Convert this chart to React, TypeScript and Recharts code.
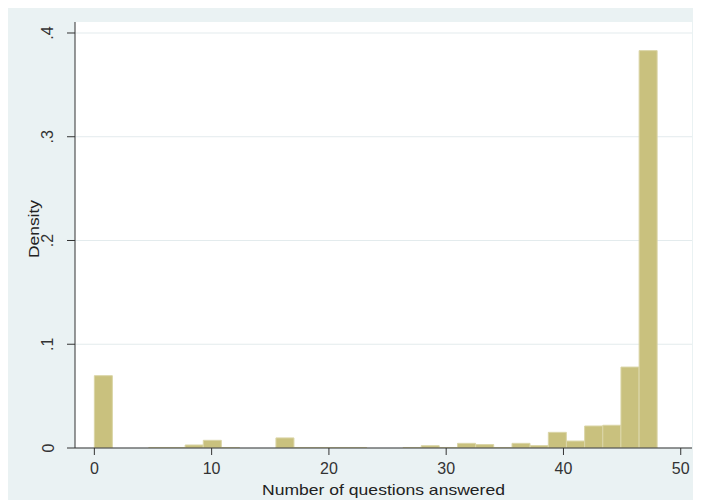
import { BarChart, Bar, XAxis, YAxis, CartesianGrid, Label } from "recharts";

// histogram of answered questions: 31 equal bins over 0..48
const BIN_START = 0;
const BIN_END = 48;
const DENSITY = [
  0.0697, 0, 0, 0.0005, 0.0005, 0.0029, 0.0074, 0.0005, 0, 0,
  0.0097, 0.0005, 0.0005, 0.0005, 0.0005, 0, 0, 0.0005, 0.0022, 0.0005,
  0.0045, 0.0033, 0.0005, 0.0045, 0.0023, 0.0151, 0.0067, 0.0212, 0.0219, 0.078,
  0.383,
];
const X_TICKS = [0, 10, 20, 30, 40, 50];
const Y_TICKS = [0, 0.1, 0.2, 0.3, 0.4];
const Y_TICK_LABELS = ["0", ".1", ".2", ".3", ".4"];

const X_DOMAIN: [number, number] = [-1.65, 50.96];
const Y_DOMAIN: [number, number] = [0, 0.4106];

const binWidth = (BIN_END - BIN_START) / DENSITY.length;
const data = DENSITY.map((d, i) => ({
  mid: BIN_START + (i + 0.5) * binWidth,
  density: d,
}));

const FONT = '"Liberation Sans", Arial, Helvetica, sans-serif';
const INK = "#333333";
const BG = "#EAF2F3";

function XTick({ x, y, payload }: any) {
  return (
    <text x={x} y={y + 11} textAnchor="middle" dominantBaseline="central" fontFamily={FONT} fontSize={16} fill={INK}>
      {payload.value}
    </text>
  );
}

function YTick({ x, y, payload, index }: any) {
  const lx = x - 17;
  const label = Y_TICK_LABELS[Y_TICKS.indexOf(payload.value)] ?? Y_TICK_LABELS[index];
  return (
    <text
      x={lx}
      y={y}
      transform={`rotate(-90, ${lx}, ${y})`}
      textAnchor="middle"
      dominantBaseline="central"
      fontFamily={FONT}
      fontSize={16}
      fill={INK}
    >
      {label}
    </text>
  );
}

export default function App() {
  return (
    <div style={{ position: "relative", left: -1, top: -1, width: 692, height: 493, background: BG }}>
      <BarChart
        width={692}
        height={493}
        data={data}
        margin={{ top: 15, right: 7, bottom: 0, left: 0 }}
        barCategoryGap={0}
        barGap={0}
      >
        <CartesianGrid fill="#ffffff" stroke="#E3EBED" vertical={false} horizontalValues={Y_TICKS} />
        <XAxis
          dataKey="mid"
          type="number"
          domain={X_DOMAIN}
          ticks={X_TICKS}
          allowDataOverflow
          height={52}
          tickSize={7}
          stroke={INK}
          tickLine={{ stroke: INK }}
          tick={<XTick />}
        >
          <Label
            content={({ viewBox }: any) => (
              <text
                x={viewBox.x + viewBox.width / 2}
                y={viewBox.y + 41}
                textAnchor="middle"
                dominantBaseline="central"
                fontFamily={FONT}
                fontSize={15}
                fill="#222"
                textLength={243}
                lengthAdjust="spacingAndGlyphs"
              >
                Number of questions answered
              </text>
            )}
          />
        </XAxis>
        <YAxis
          type="number"
          domain={Y_DOMAIN}
          ticks={Y_TICKS}
          allowDataOverflow
          width={68}
          tickSize={8}
          stroke={INK}
          tickLine={{ stroke: INK }}
          tick={<YTick />}
        >
          <Label
            content={({ viewBox }: any) => {
              const cx = 26;
              const cy = viewBox.y + viewBox.height / 2 - 6;
              return (
                <text
                  x={cx}
                  y={cy}
                  transform={`rotate(-90, ${cx}, ${cy})`}
                  textAnchor="middle"
                  dominantBaseline="central"
                  fontFamily={FONT}
                  fontSize={15}
                  fill="#222"
                  textLength={58}
                  lengthAdjust="spacingAndGlyphs"
                >
                  Density
                </text>
              );
            }}
          />
        </YAxis>
        <Bar dataKey="density" fill="#C9C17E" stroke="#DAD5A6" strokeWidth={1} isAnimationActive={false} />
      </BarChart>
    </div>
  );
}
